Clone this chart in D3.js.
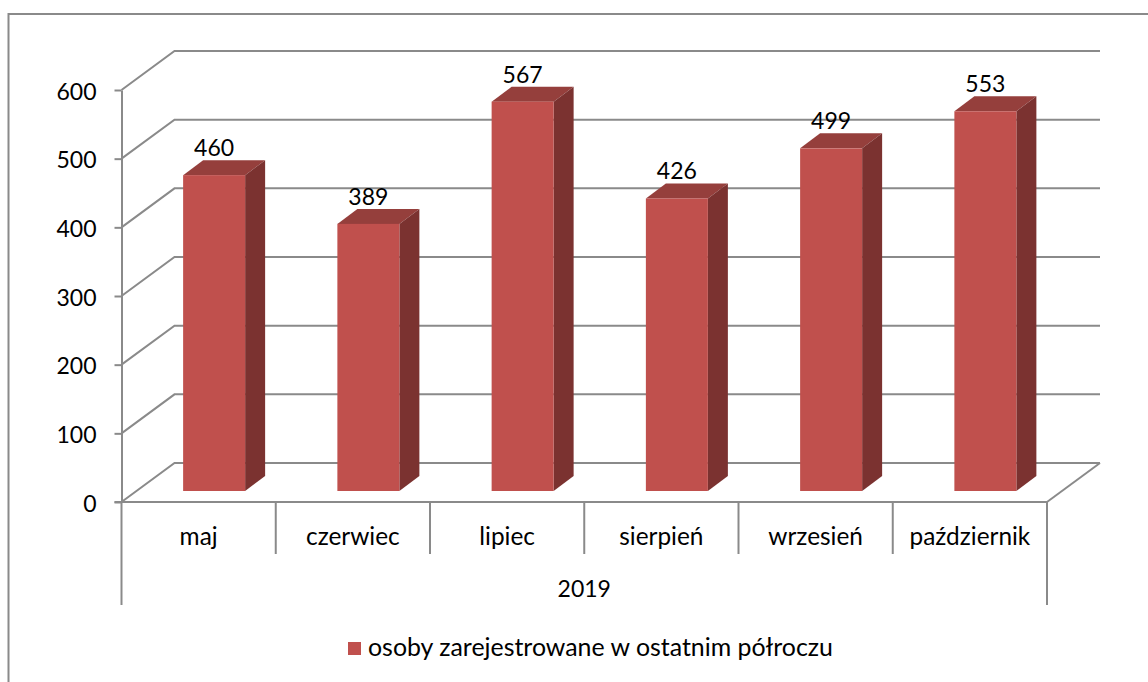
<!DOCTYPE html>
<html>
<head>
<meta charset="utf-8">
<script src="https://cdn.jsdelivr.net/npm/d3@7"></script>
<style>
    html, body { margin: 0; padding: 0; background: #fff; }
    svg { display: block; }
    text { font-family: Lato, "Open Sans", sans-serif; fill: #000; }
</style>
</head>
<body>
<div id="chart"></div>
<script>
const categories = ['maj', 'czerwiec', 'lipiec', 'sierpień', 'wrzesień', 'październik'];
const values = [460, 389, 567, 426, 499, 553];
const yTicks = [0, 100, 200, 300, 400, 500, 600];
const groupLabel = '2019';
const seriesName = 'osoby zarejestrowane w ostatnim półroczu';

const width = 1148;
const height = 682;
const digitSize = 23;
const labelSize = 24.4;
const legendSize = 24.9;
const grey = '#8a8a8a';

// Front plane of the 3D box, and how far the back wall is shifted from it.
const y = d3.scaleLinear().domain([0, 600]).range([502, 90]);
const x = d3.scaleBand().domain(categories).range([121.5, 1047]);
const wallDx = 53;
const wallDy = -39;
const barWidth = 62;
const barDx = 20;
const barDy = -15;
// Bars stand on the floor, a little behind the front edge.
const floorDx = 15.5;
const floorDy = -11;

const svg = d3.select('#chart').append('svg')
    .attr('width', width)
    .attr('height', height)
    .attr('viewBox', [0, 0, width, height]);

// Outer chart frame, its right and bottom edges are cropped off.
svg.append('path')
    .attr('d', `M8.5,${height}V14H${width}`)
    .attr('fill', 'none')
    .attr('stroke', grey)
    .attr('stroke-width', 2);

// Gridlines on the back wall and the slanted ones on the left wall.
const grid = svg.append('g')
    .attr('fill', 'none')
    .attr('stroke', grey)
    .attr('stroke-width', 2);

grid.selectAll('path')
    .data(yTicks)
    .join('path')
    .attr('d', d => `M${x.range()[0]},${y(d)}L${x.range()[0] + wallDx},${y(d) + wallDy}H${x.range()[1] + wallDx}`);

// Right edge of the floor.
grid.append('path')
    .attr('d', `M${x.range()[1]},${y(0)}L${x.range()[1] + wallDx},${y(0) + wallDy}`);

// Bars: top, side, then front face.
const bars = svg.append('g')
    .selectAll('g')
    .data(categories.map((c, i) => ({category: c, value: values[i]})))
    .join('g');

const barX = d => x(d.category) + x.bandwidth() / 2 + floorDx - barWidth / 2;
const barTop = d => y(d.value) + floorDy;
const barBottom = y(0) + floorDy;

bars.append('path')
    .attr('fill', '#953f3c')
    .attr('d', d => {
        const x0 = barX(d);
        const t = barTop(d);
        return `M${x0},${t}l${barDx},${barDy}h${barWidth}l${-barDx},${-barDy}Z`;
    });

bars.append('path')
    .attr('fill', '#7b3230')
    .attr('d', d => {
        const x1 = barX(d) + barWidth;
        const t = barTop(d);
        return `M${x1},${t}l${barDx},${barDy}V${barBottom + barDy}L${x1},${barBottom}Z`;
    });

bars.append('rect')
    .attr('fill', '#c0504d')
    .attr('x', barX)
    .attr('y', barTop)
    .attr('width', barWidth)
    .attr('height', d => barBottom - barTop(d));

// Data labels sit just above the back edge of the bar top.
bars.append('text')
    .attr('x', d => barX(d) + barWidth / 2)
    .attr('y', d => barTop(d) + barDy - 4)
    .attr('text-anchor', 'middle')
    .attr('font-size', digitSize)
    .text(d => d.value);

// Value axis.
const yAxis = svg.append('g')
    .attr('transform', `translate(${x.range()[0]},0)`)
    .call(d3.axisLeft(y).tickValues(yTicks).tickSize(7).tickSizeOuter(0).tickPadding(18));
yAxis.selectAll('path, line').attr('stroke', grey).attr('stroke-width', 2);
yAxis.selectAll('text')
    .attr('font-size', digitSize)
    .attr('font-family', null)
    .attr('dy', '0.4em');

// Category axis with separators, and the longer outer ones for the year group.
const axisFloor = svg.append('g')
    .attr('stroke', grey)
    .attr('stroke-width', 2);

axisFloor.append('line')
    .attr('x1', x.range()[0] - 7)
    .attr('x2', x.range()[1])
    .attr('y1', y(0))
    .attr('y2', y(0));

axisFloor.selectAll('line.sep')
    .data(d3.range(categories.length + 1))
    .join('line')
    .attr('class', 'sep')
    .attr('x1', i => x.range()[0] + i * x.bandwidth())
    .attr('x2', i => x.range()[0] + i * x.bandwidth())
    .attr('y1', y(0))
    .attr('y2', i => (i === 0 || i === categories.length) ? 605 : 554);

svg.append('g')
    .selectAll('text')
    .data(categories)
    .join('text')
    .attr('x', d => x(d) + x.bandwidth() / 2)
    .attr('y', 545)
    .attr('text-anchor', 'middle')
    .attr('font-size', labelSize)
    .text(d => d);

svg.append('text')
    .attr('x', (x.range()[0] + x.range()[1]) / 2)
    .attr('y', 597)
    .attr('text-anchor', 'middle')
    .attr('font-size', digitSize)
    .text(groupLabel);

// Legend.
svg.append('rect')
    .attr('x', 348)
    .attr('y', 642)
    .attr('width', 13)
    .attr('height', 13)
    .attr('fill', '#c0504d');

svg.append('text')
    .attr('x', 368)
    .attr('y', 656)
    .attr('font-size', legendSize)
    .text(seriesName);
</script>
</body>
</html>
